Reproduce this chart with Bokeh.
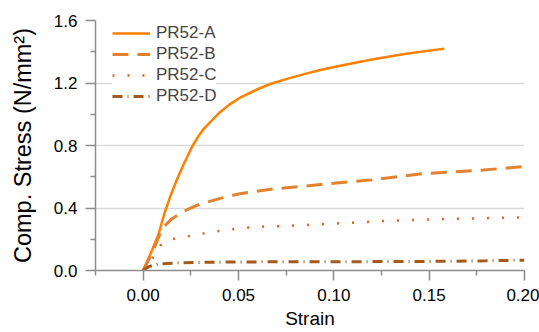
from bokeh.plotting import figure
from bokeh.models import FixedTicker, Range1d, Legend, LegendItem, CustomJSTickFormatter
from bokeh.embed import file_html
from bokeh.resources import INLINE

# ---- data ----
strain_a = [0, 0.004, 0.008, 0.011, 0.0147, 0.018, 0.0216, 0.026, 0.029, 0.032, 0.036, 0.040,
            0.045, 0.0514, 0.06, 0.067, 0.075, 0.0844, 0.093, 0.102, 0.11, 0.12, 0.137, 0.158]
stress_a = [0, 0.11, 0.23, 0.36, 0.49, 0.59, 0.69, 0.80, 0.86, 0.91, 0.96, 1.01,
            1.06, 1.11, 1.16, 1.195, 1.225, 1.257, 1.283, 1.307, 1.327, 1.35, 1.385, 1.42]

strain_b = [0, 0.005, 0.01, 0.015, 0.02, 0.025, 0.03, 0.04, 0.05, 0.067, 0.093, 0.12, 0.147, 0.175, 0.2]
stress_b = [0, 0.12, 0.27, 0.33, 0.37, 0.40, 0.425, 0.46, 0.49, 0.52, 0.55, 0.58, 0.62, 0.64, 0.665]

strain_c = [0, 0.005, 0.009, 0.012, 0.015, 0.022, 0.035, 0.05, 0.06, 0.075, 0.10, 0.128, 0.16, 0.2]
stress_c = [0, 0.08, 0.16, 0.19, 0.20, 0.215, 0.245, 0.27, 0.28, 0.285, 0.30, 0.318, 0.33, 0.34]

strain_d = [0, 0.003, 0.008, 0.02, 0.05, 0.10, 0.15, 0.18, 0.2]
stress_d = [0, 0.025, 0.042, 0.05, 0.055, 0.056, 0.058, 0.062, 0.066]

series_names = ["PR52-A", "PR52-B", "PR52-C", "PR52-D"]
x_ticks = [0.0, 0.05, 0.10, 0.15, 0.20]
x_minor = [-0.025, 0.025, 0.075, 0.125, 0.175]
y_ticks = [0.0, 0.4, 0.8, 1.2, 1.6]
y_minor = [0.2, 0.6, 1.0, 1.4]
y_grid = [0.4, 0.8, 1.2]

FONT = "Liberation Sans"
AXIS_COL = "#8c8c8c"

p = figure(width=539, height=332, output_backend="svg", toolbar_location=None,
           x_range=Range1d(-0.025, 0.2), y_range=Range1d(0, 1.6),
           min_border_left=95, min_border_right=15, min_border_top=20, min_border_bottom=62)
p.outline_line_color = None

p.xaxis.ticker = FixedTicker(ticks=x_ticks, minor_ticks=x_minor)
p.yaxis.ticker = FixedTicker(ticks=y_ticks, minor_ticks=y_minor)
p.xaxis.formatter = CustomJSTickFormatter(code="return tick.toFixed(2)")
p.yaxis.formatter = CustomJSTickFormatter(code="return tick.toFixed(1)")

for ax in (p.xaxis[0], p.yaxis[0]):
    ax.axis_line_color = AXIS_COL
    ax.axis_line_width = 1.5
    ax.major_tick_line_color = AXIS_COL
    ax.minor_tick_line_color = AXIS_COL
    ax.major_tick_line_width = 1.5
    ax.minor_tick_line_width = 1.5
    ax.major_tick_in = 0
    ax.major_tick_out = 10
    ax.minor_tick_in = 0
    ax.minor_tick_out = 5
    ax.major_label_text_font = FONT
    ax.major_label_text_font_size = "17px"
    ax.major_label_text_color = "#000000"
    ax.axis_label_text_font = FONT
    ax.axis_label_text_font_style = "normal"
    ax.axis_label_text_color = "#000000"
    ax.major_label_standoff = 8

p.xaxis.axis_label = "Strain"
p.xaxis.axis_label_text_font_size = "19px"
p.xaxis.axis_label_standoff = 4
p.yaxis.axis_label = "Comp. Stress (N/mm²)"
p.yaxis.axis_label_text_font_size = "23.5px"
p.yaxis.axis_label_standoff = 15

p.xgrid.visible = False
p.ygrid.ticker = FixedTicker(ticks=y_grid)
p.ygrid.grid_line_color = "#d9d9d9"
p.ygrid.grid_line_width = 1.5

ra = p.line(strain_a, stress_a, line_color="#ff8000", line_width=2.5)
rb = p.line(strain_b, stress_b, line_color="#e2822e", line_width=3, line_dash="16 9")
rc = p.line(strain_c, stress_c, line_color="#e3611b", line_width=2.5, line_dash="2 13")
rd = p.line(strain_d, stress_d, line_color="#a35a1c", line_width=3, line_dash="10 5 1 5")

legend = Legend(items=[LegendItem(label=n, renderers=[r]) for n, r in zip(series_names, [ra, rb, rc, rd])],
                location=(17, 164), padding=8, margin=0, spacing=1,
                glyph_width=38, glyph_height=20, label_height=20, label_standoff=6,
                label_text_font=FONT, label_text_font_size="17px",
                border_line_color=None, background_fill_color="white", background_fill_alpha=1.0)
p.add_layout(legend, "center")

open("out.html", "w").write(file_html(p, INLINE))
